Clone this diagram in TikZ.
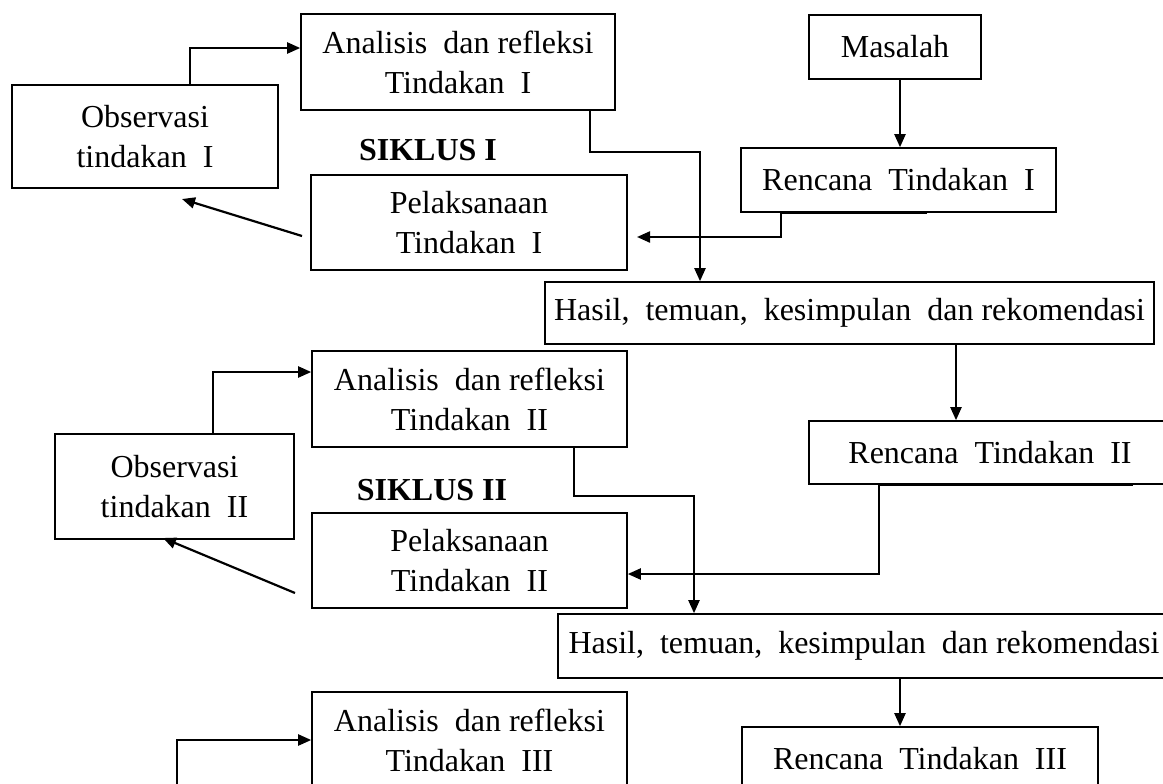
\documentclass[tikz,border=0pt]{standalone}
\usepackage{fontspec}
\setmainfont{Liberation Serif}
\usetikzlibrary{arrows.meta}

\begin{document}
\begin{tikzpicture}[x=0.5pt,y=-0.5pt,
  box/.style={draw, line width=0.8pt, rectangle, inner sep=0pt, align=center,
    font=\fontsize{16}{20}\selectfont},
  link/.style={line width=1.1pt},
  arr/.style={link, -{Triangle[length=6.5pt,width=5.5pt]}},
  lbl/.style={font=\fontsize{16}{20}\selectfont\bfseries}]

\useasboundingbox (0,0) rectangle (1163,783);
\clip (0,0) rectangle (1163,783);

% Siklus I
\node[box, minimum width=157pt, minimum height=48pt] (anaI) at (458,62) {Analisis\ \ dan refleksi\\Tindakan\ \ I};
\node[box, minimum width=133pt, minimum height=51.5pt] (obsI) at (145,136.5) {Observasi\\tindakan\ \ I};
\node[box, minimum width=158pt, minimum height=47.5pt] (pelI) at (469,222.5) {Pelaksanaan\\Tindakan\ \ I};
\node[box, minimum width=86pt, minimum height=32pt] (masalah) at (895,47) {Masalah};
\node[box, minimum width=157.5pt, minimum height=32pt] (renI) at (898.5,180) {Rencana\ \ Tindakan\ \ I};
\node[box, minimum width=304.5pt, minimum height=31pt] (hasI) at (849.5,313) {Hasil,\ \ temuan,\ \ kesimpulan\ \ dan rekomendasi};
\node[lbl] (sikI) at (428,150) {SIKLUS I};

% Siklus II
\node[box, minimum width=157.5pt, minimum height=48pt] (anaII) at (469.5,399) {Analisis\ \ dan refleksi\\Tindakan\ \ II};
\node[box, minimum width=119.5pt, minimum height=52.5pt] (obsII) at (174.5,486.5) {Observasi\\tindakan\ \ II};
\node[box, minimum width=157.5pt, minimum height=47.5pt] (pelII) at (469.5,560.5) {Pelaksanaan\\Tindakan\ \ II};
\node[box, minimum width=181pt, minimum height=31.5pt] (renII) at (990,452.5) {Rencana\ \ Tindakan\ \ II};
\node[box, minimum width=306pt, minimum height=32pt] (hasII) at (864,646) {Hasil,\ \ temuan,\ \ kesimpulan\ \ dan rekomendasi};
\node[lbl] (sikII) at (432,490) {SIKLUS II};

% Siklus III
\node[box, minimum width=157.5pt, minimum height=48pt] (anaIII) at (469.5,740) {Analisis\ \ dan refleksi\\Tindakan\ \ III};
\node[box, minimum width=178pt, minimum height=32pt] (renIII) at (920,759) {Rencana\ \ Tindakan\ \ III};

% free ends
\coordinate (oIa) at (78,85);
\coordinate (pIs) at (302,236);
\coordinate (pIe) at (182,199);
\coordinate (rIe) at (637,237);
\coordinate (oIIa) at (113,434);
\coordinate (pIIs) at (295,593);
\coordinate (pIIe) at (163,538);
\coordinate (aIIIs) at (177,800);

% connectors, cycle I
\draw[arr] (oIa) -- (190,85) -- (190,48) -- (anaI.west |- 0,48);
\draw[arr] (pIs) -- (pIe);
\draw[arr] (masalah.south -| 900,0) -- (renI.north -| 900,0);
\draw[arr] (renI.south -| 927,0) -- (renI.south -| 781,0) |- (rIe);
\draw[arr] (anaI.south -| 590,0) -- (590,152) -| (hasI.north -| 700,0);
\draw[arr] (hasI.south -| 956,0) -- (renII.north -| 956,0);

% connectors, cycle II
\draw[arr] (oIIa) -- (213,434) -- (213,372) -- (anaII.west |- 0,372);
\draw[arr] (pIIs) -- (pIIe);
\draw[arr] (renII.south -| 1133,0) -- (renII.south -| 879,0) |- (pelII.east |- 0,574);
\draw[arr] (anaII.south -| 574,0) -- (574,496) -| (hasII.north -| 694,0);
\draw[arr] (hasII.south -| 900,0) -- (renIII.north -| 900,0);

% cycle III
\draw[arr] (aIIIs) |- (anaIII.west);

\end{tikzpicture}
\end{document}
